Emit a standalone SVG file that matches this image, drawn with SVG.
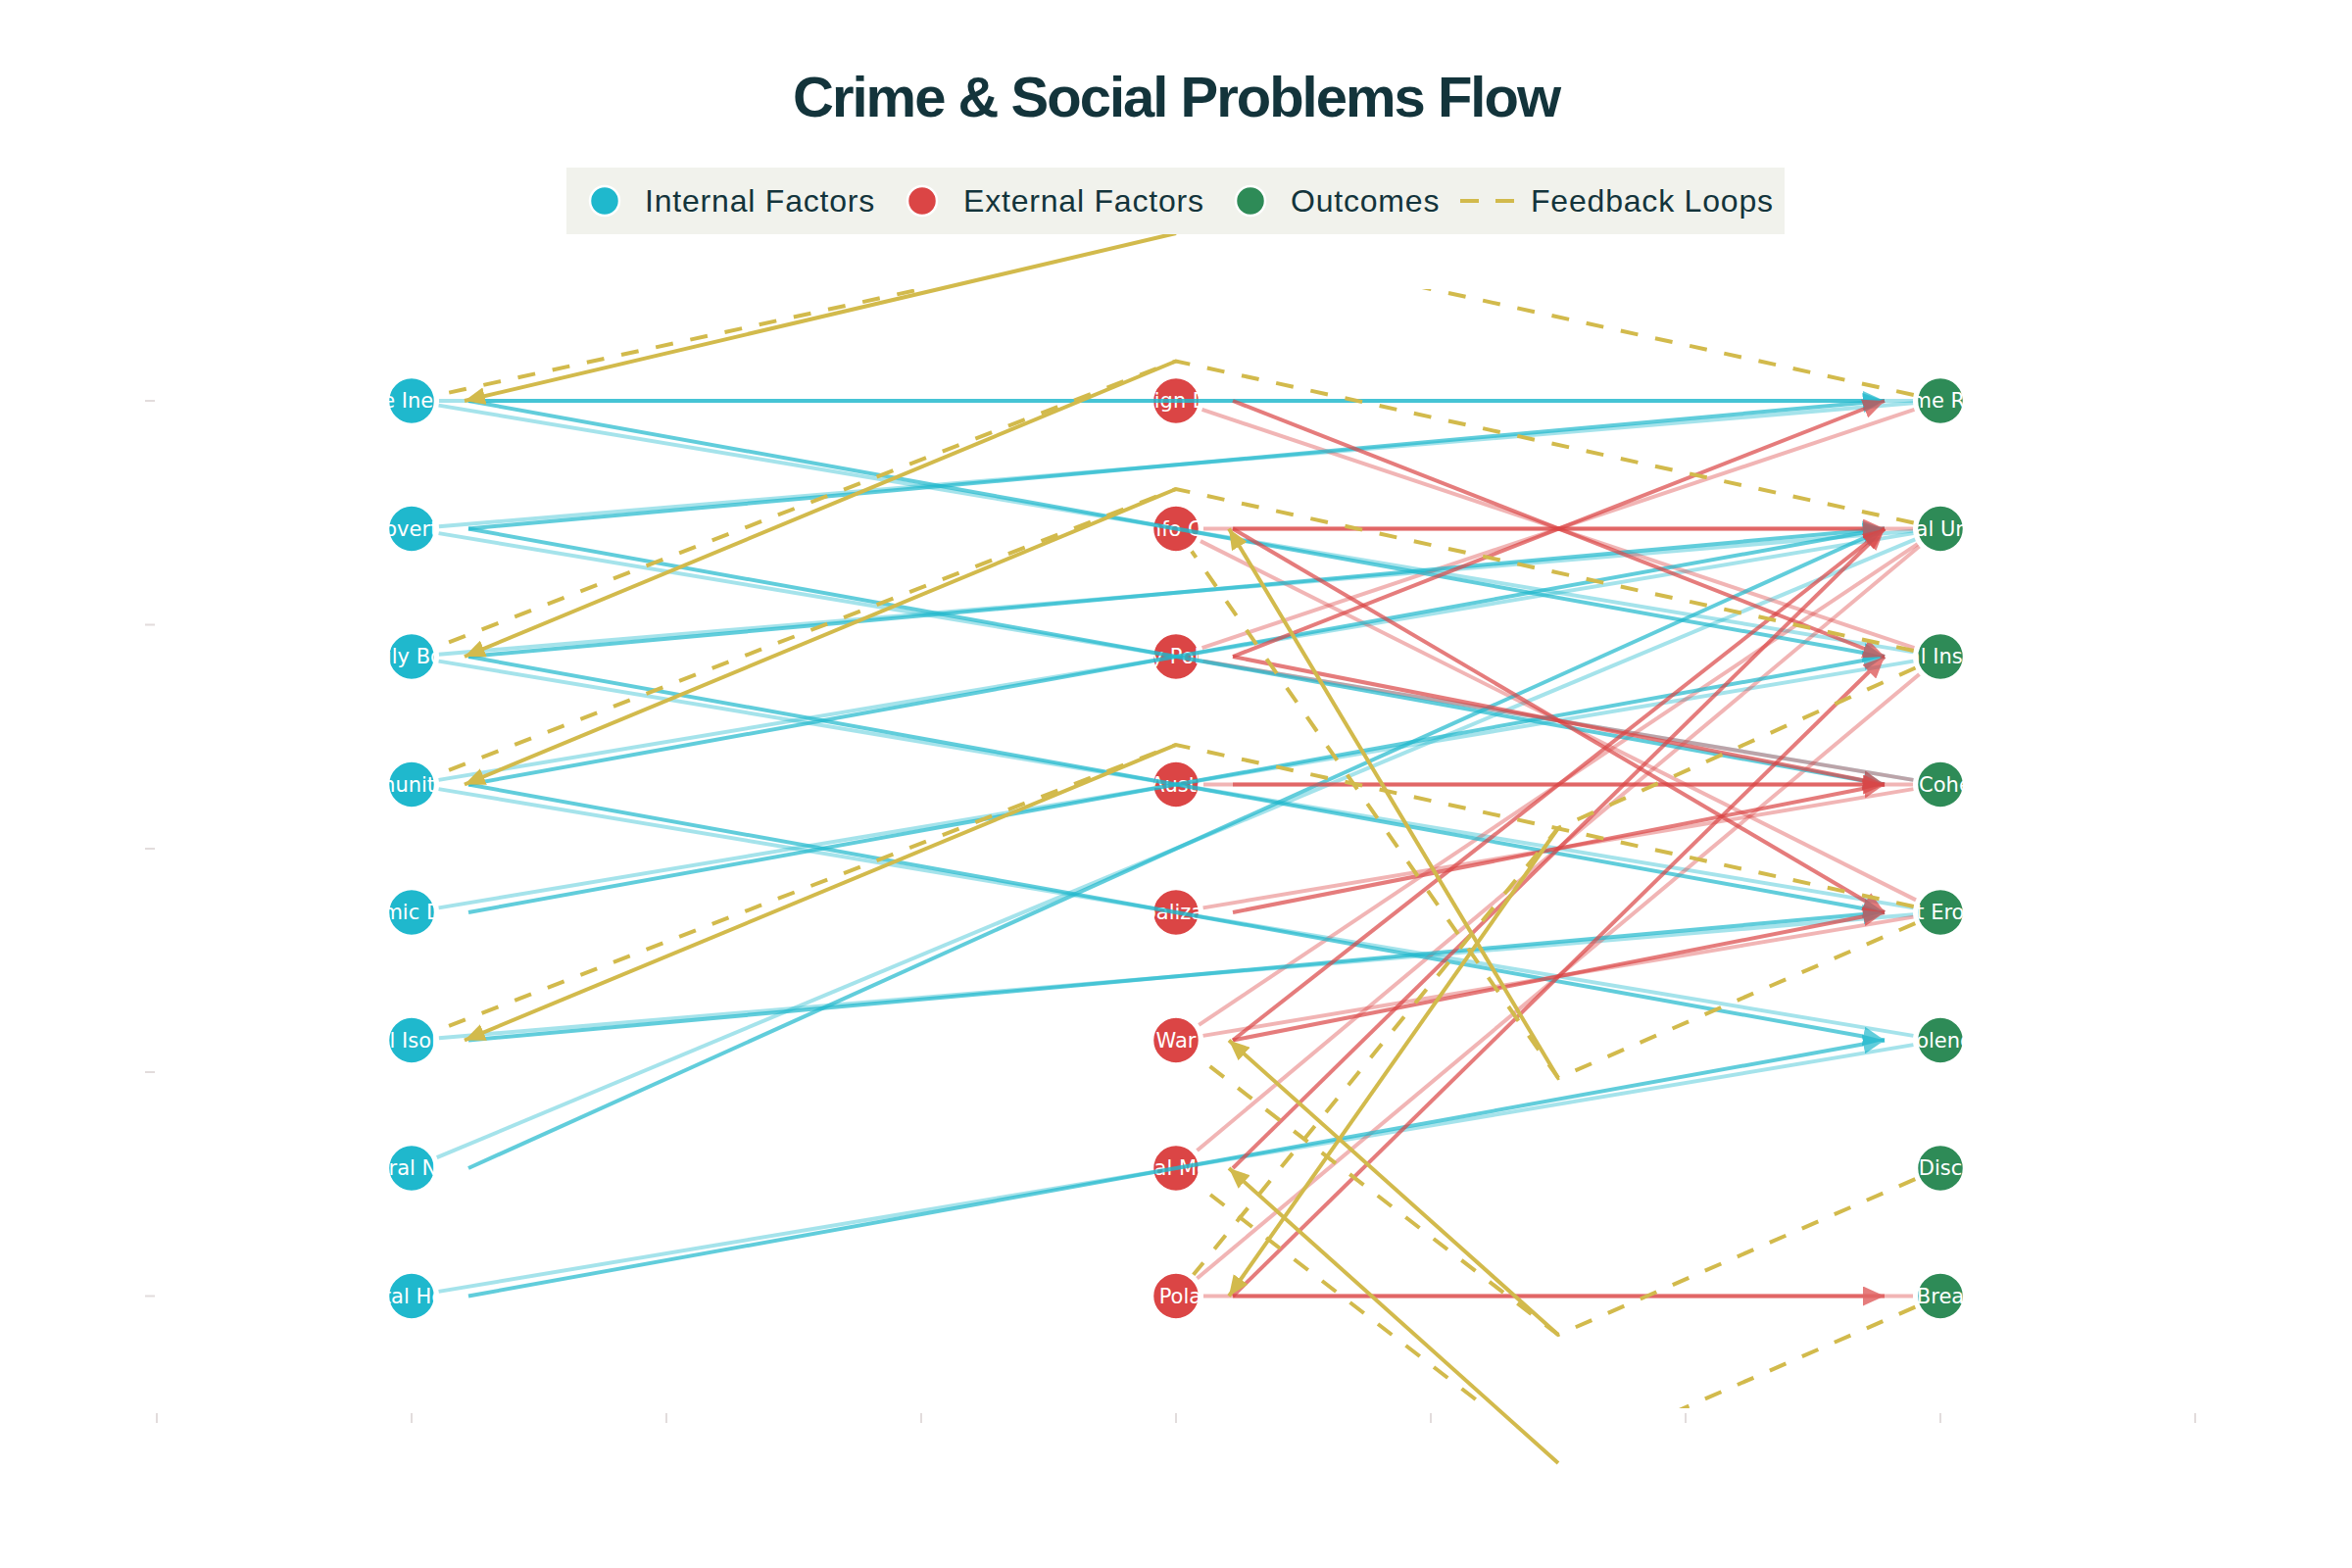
<svg xmlns="http://www.w3.org/2000/svg" width="2400" height="1600" viewBox="0 0 2400 1600">
<defs>
<style>
.title{font-family:"Liberation Sans",Arial,sans-serif;font-weight:bold;font-size:58px;fill:#13343B;letter-spacing:-2px}
.leg{font-family:"Liberation Sans",Arial,sans-serif;font-size:32px;fill:#13343B;letter-spacing:0.8px}
.lab{font-family:"DejaVu Sans",Verdana,sans-serif;font-size:21px;fill:#fff;text-anchor:middle;dominant-baseline:central}
.nc{stroke:#fff;stroke-width:1.5}
.int{fill:#1FB8CD}.ext{fill:#DB4545}.out{fill:#2E8B57}
.tick{stroke:#e2dcdc;stroke-width:2}
.cl{stroke:#1FB8CD;stroke-width:4;fill:none;opacity:.4}
.cd{stroke:#1FB8CD;stroke-width:4;fill:none;opacity:.7;marker-end:url(#ah-c)}
.rl{stroke:#DB4545;stroke-width:4;fill:none;opacity:.4}
.rd{stroke:#DB4545;stroke-width:4;fill:none;opacity:.7;marker-end:url(#ah-r)}
.fd{stroke:#D2BA4C;stroke-width:4;fill:none;stroke-dasharray:18 18}
.fs{stroke:#D2BA4C;stroke-width:4;fill:none;marker-end:url(#ah-y)}
</style>
<marker id="ah-c" viewBox="0 0 22 20" refX="22" refY="10" markerWidth="22" markerHeight="20" markerUnits="userSpaceOnUse" orient="auto"><path d="M0,0 L22,10 L0,20 Z" fill="#1FB8CD"/></marker>
<marker id="ah-r" viewBox="0 0 22 20" refX="22" refY="10" markerWidth="22" markerHeight="20" markerUnits="userSpaceOnUse" orient="auto"><path d="M0,0 L22,10 L0,20 Z" fill="#DB4545"/></marker>
<marker id="ah-y" viewBox="0 0 21 18" refX="21" refY="9" markerWidth="21" markerHeight="18" markerUnits="userSpaceOnUse" orient="auto"><path d="M0,0 L21,9 L0,18 Z" fill="#D2BA4C"/></marker>
<clipPath id="plot"><rect x="160" y="295" width="2080" height="1142"/></clipPath>
</defs>
<rect width="2400" height="1600" fill="#fff"/>
<g id="axes">
<path class="tick" d="M148,409H158M148,637.5H158M148,866H158M148,1094H158M148,1322.5H158"/>
<path class="tick" d="M160,1442V1452M420,1442V1452M680,1442V1452M940,1442V1452M1200,1442V1452M1460,1442V1452M1720,1442V1452M1980,1442V1452M2240,1442V1452"/>
</g>
<g id="nodes">
<g id="n-income-inequality"><circle class="nc int" cx="420" cy="409" r="23.5"/><text class="lab" x="420" y="409">Income Inequality</text></g>
<g id="n-poverty"><circle class="nc int" cx="420" cy="539.5" r="23.5"/><text class="lab" x="420" y="539.5">Poverty</text></g>
<g id="n-family-bonds"><circle class="nc int" cx="420" cy="670" r="23.5"/><text class="lab" x="420" y="670">Family Bonds</text></g>
<g id="n-community-ties"><circle class="nc int" cx="420" cy="800.5" r="23.5"/><text class="lab" x="420" y="800.5">Community Ties</text></g>
<g id="n-economic-decline"><circle class="nc int" cx="420" cy="931" r="23.5"/><text class="lab" x="420" y="931">Economic Decline</text></g>
<g id="n-social-isolation"><circle class="nc int" cx="420" cy="1061.5" r="23.5"/><text class="lab" x="420" y="1061.5">Social Isolation</text></g>
<g id="n-cultural-norms"><circle class="nc int" cx="420" cy="1192" r="23.5"/><text class="lab" x="420" y="1192">Cultural Norms</text></g>
<g id="n-mental-health"><circle class="nc int" cx="420" cy="1322.5" r="23.5"/><text class="lab" x="420" y="1322.5">Mental Health</text></g>
<g id="n-foreign-debt"><circle class="nc ext" cx="1200" cy="409" r="23.5"/><text class="lab" x="1200" y="409">Foreign Debt</text></g>
<g id="n-misinfo-crisis"><circle class="nc ext" cx="1200" cy="539.5" r="23.5"/><text class="lab" x="1200" y="539.5">Misinfo Crisis</text></g>
<g id="n-party-politics"><circle class="nc ext" cx="1200" cy="670" r="23.5"/><text class="lab" x="1200" y="670">Party Politics</text></g>
<g id="n-imf-austerity"><circle class="nc ext" cx="1200" cy="800.5" r="23.5"/><text class="lab" x="1200" y="800.5">IMF Austerity</text></g>
<g id="n-globalization"><circle class="nc ext" cx="1200" cy="931" r="23.5"/><text class="lab" x="1200" y="931">Globalization</text></g>
<g id="n-war"><circle class="nc ext" cx="1200" cy="1061.5" r="23.5"/><text class="lab" x="1200" y="1061.5">War</text></g>
<g id="n-social-media"><circle class="nc ext" cx="1200" cy="1192" r="23.5"/><text class="lab" x="1200" y="1192">Social Media</text></g>
<g id="n-political-polarization"><circle class="nc ext" cx="1200" cy="1322.5" r="23.5"/><text class="lab" x="1200" y="1322.5">Political Polarization</text></g>
<g id="n-crime-rate"><circle class="nc out" cx="1980" cy="409" r="23.5"/><text class="lab" x="1980" y="409">Crime Rate</text></g>
<g id="n-social-unrest"><circle class="nc out" cx="1980" cy="539.5" r="23.5"/><text class="lab" x="1980" y="539.5">Social Unrest</text></g>
<g id="n-political-instability"><circle class="nc out" cx="1980" cy="670" r="23.5"/><text class="lab" x="1980" y="670">Political Instability</text></g>
<g id="n-less-cohesion"><circle class="nc out" cx="1980" cy="800.5" r="23.5"/><text class="lab" x="1980" y="800.5">Less Cohesion</text></g>
<g id="n-trust-erosion"><circle class="nc out" cx="1980" cy="931" r="23.5"/><text class="lab" x="1980" y="931">Trust Erosion</text></g>
<g id="n-violence"><circle class="nc out" cx="1980" cy="1061.5" r="23.5"/><text class="lab" x="1980" y="1061.5">Violence</text></g>
<g id="n-public-discontent"><circle class="nc out" cx="1980" cy="1192" r="23.5"/><text class="lab" x="1980" y="1192">Public Discontent</text></g>
<g id="n-social-breakdown"><circle class="nc out" cx="1980" cy="1322.5" r="23.5"/><text class="lab" x="1980" y="1322.5">Social Breakdown</text></g>
</g>
<g id="connectors">
<g id="internal-light">
<path class="cl" d="M448,409 L1952,409"/>
<path class="cl" d="M447.6,413.6 L1952.4,665.4"/>
<path class="cl" d="M447.9,537.2 L1952.1,411.3"/>
<path class="cl" d="M447.6,544.1 L1952.4,795.9"/>
<path class="cl" d="M447.9,667.7 L1952.1,541.8"/>
<path class="cl" d="M447.6,674.6 L1952.4,926.4"/>
<path class="cl" d="M447.6,795.9 L1952.4,544.1"/>
<path class="cl" d="M447.6,805.1 L1952.4,1056.9"/>
<path class="cl" d="M447.6,926.4 L1952.4,674.6"/>
<path class="cl" d="M447.9,1059.2 L1952.1,933.3"/>
<path class="cl" d="M445.8,1181.2 L1954.2,550.3"/>
<path class="cl" d="M447.6,1317.9 L1952.4,1066.1"/>
</g>
<g id="external-light">
<path class="rl" d="M1226.6,417.9 L1953.4,661.1"/>
<path class="rl" d="M1228,539.5 L1952,539.5"/>
<path class="rl" d="M1225,552.1 L1955,918.4"/>
<path class="rl" d="M1226.6,661.1 L1953.4,417.9"/>
<path class="rl" d="M1227.6,674.6 L1952.4,795.9"/>
<path class="rl" d="M1228,800.5 L1952,800.5"/>
<path class="rl" d="M1227.6,926.4 L1952.4,805.1"/>
<path class="rl" d="M1223.3,1045.9 L1956.7,555.1"/>
<path class="rl" d="M1227.6,1056.9 L1952.4,935.6"/>
<path class="rl" d="M1221.5,1174 L1958.5,557.5"/>
<path class="rl" d="M1221.5,1304.5 L1958.5,688"/>
<path class="rl" d="M1228,1322.5 L1952,1322.5"/>
</g>
<g id="internal-arrows">
<path class="cd" d="M478,409 L1923,409"/>
<path class="cd" d="M478,409 L1923,670"/>
<path class="cd" d="M478,539.5 L1923,409"/>
<path class="cd" d="M478,539.5 L1923,800.5"/>
<path class="cd" d="M478,670 L1923,539.5"/>
<path class="cd" d="M478,670 L1923,931"/>
<path class="cd" d="M478,800.5 L1923,539.5"/>
<path class="cd" d="M478,800.5 L1923,1061.5"/>
<path class="cd" d="M478,931 L1923,670"/>
<path class="cd" d="M478,1061.5 L1923,931"/>
<path class="cd" d="M478,1192 L1923,539.5"/>
<path class="cd" d="M478,1322.5 L1923,1061.5"/>
</g>
<g id="external-arrows">
<path class="rd" d="M1258,409 L1923,670"/>
<path class="rd" d="M1258,539.5 L1923,539.5"/>
<path class="rd" d="M1258,539.5 L1923,931"/>
<path class="rd" d="M1258,670 L1923,409"/>
<path class="rd" d="M1258,670 L1923,800.5"/>
<path class="rd" d="M1258,800.5 L1923,800.5"/>
<path class="rd" d="M1258,931 L1923,800.5"/>
<path class="rd" d="M1258,1061.5 L1923,539.5"/>
<path class="rd" d="M1258,1061.5 L1923,931"/>
<path class="rd" d="M1258,1192 L1923,539.5"/>
<path class="rd" d="M1258,1322.5 L1923,670"/>
<path class="rd" d="M1258,1322.5 L1923,1322.5"/>
</g>
<g id="feedback-dashed" clip-path="url(#plot)">
<path class="fd" d="M1952.7,403 L1200,238 L447.3,403"/>
<path class="fd" d="M1952.7,533.5 L1200,368.5 L446.1,659.9"/>
<path class="fd" d="M1952.7,664 L1200,499 L446.1,790.4"/>
<path class="fd" d="M1952.7,925 L1200,760 L446.1,1051.4"/>
<path class="fd" d="M1954.3,942.1 L1590,1100 L1216,562.5"/>
<path class="fd" d="M1954.5,681.5 L1590,845 L1217.7,1300.8"/>
<path class="fd" d="M1954.3,1203.2 L1590,1362 L1222.2,1078.6"/>
<path class="fd" d="M1954.3,1333.7 L1590,1493 L1222.2,1209.1"/>
</g>
<g id="feedback-arrows">
<path class="fs" d="M1200,238 L474,409"/>
<path class="fs" d="M1200,368.5 L474,670"/>
<path class="fs" d="M1200,499 L474,800.5"/>
<path class="fs" d="M1200,760 L474,1061.5"/>
<path class="fs" d="M1590,1100 L1254,539.5"/>
<path class="fs" d="M1590,845 L1254,1322.5"/>
<path class="fs" d="M1590,1362 L1254,1061.5"/>
<path class="fs" d="M1590,1493 L1254,1192"/>
</g>
</g>
<text class="title" x="1200" y="119" text-anchor="middle">Crime &amp; Social Problems Flow</text>
<g id="legend">
<rect x="578" y="171" width="1243" height="68" fill="#F1F2EC"/>
<circle cx="617" cy="205" r="15" fill="#1FB8CD" stroke="#fff" stroke-width="2.5"/>
<text class="leg" x="658" y="216">Internal Factors</text>
<circle cx="941" cy="205" r="15" fill="#DB4545" stroke="#fff" stroke-width="2.5"/>
<text class="leg" x="983" y="216">External Factors</text>
<circle cx="1276" cy="205" r="15" fill="#2E8B57" stroke="#fff" stroke-width="2.5"/>
<text class="leg" x="1317" y="216">Outcomes</text>
<path d="M1490,205 L1545,205" stroke="#D2BA4C" stroke-width="4" stroke-dasharray="19 17"/>
<text class="leg" x="1562" y="216">Feedback Loops</text>
</g>
</svg>
